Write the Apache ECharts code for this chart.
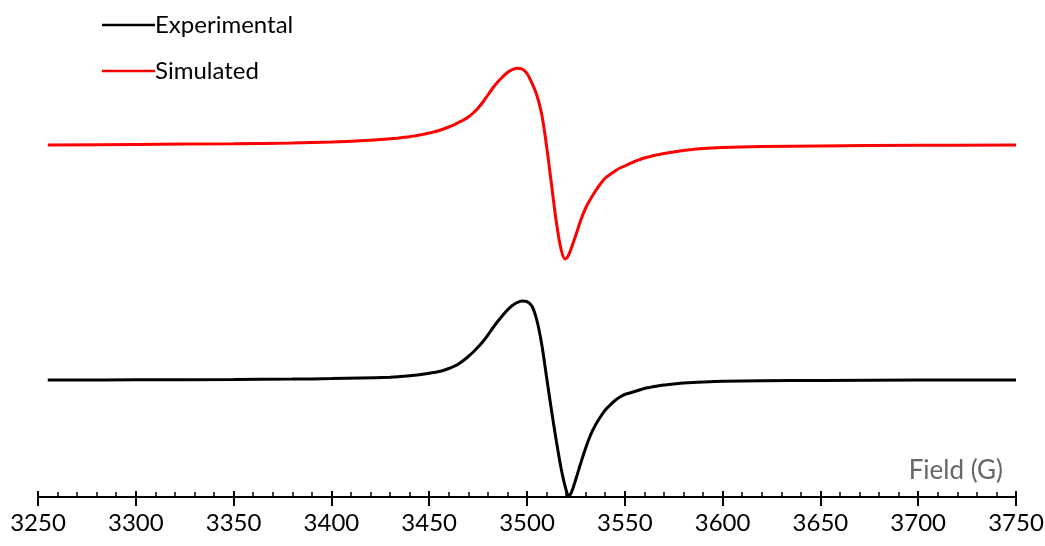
<!DOCTYPE html>
<html>
<head>
<meta charset="utf-8">
<script src="https://cdn.jsdelivr.net/npm/echarts@6/dist/echarts.min.js"></script>
<style>html,body{margin:0;padding:0;background:#fff}#c{width:1045px;height:546px}</style>
</head>
<body>
<div id="c"></div>
<script>
// Field (G) and intensity (arbitrary units)
const expField = [3255,3300,3350,3380,3400,3415,3430,3435,3440,3442.5,3445,3447.5,3450,3452.5,3455,3457.5,3460,3462.5,3465,3467.5,3470,3472.5,3475,3477.5,3480,3482.5,3485,3487.5,3490,3492.5,3495,3497.5,3500,3502.5,3505,3507.5,3510,3512.5,3515,3517.5,3520,3521.5,3523,3525,3527.5,3530,3532.5,3535,3537.5,3540,3542.5,3545,3547.5,3550,3552.5,3555,3557.5,3560,3562.5,3565,3567.5,3570,3572.5,3575,3577.5,3580,3590,3600,3620,3650,3700,3750];
const expIntensity = [0,0.2,0.5,0.9,1.4,2,2.8,3.4,4.2,4.7,5.3,6,6.7,7.5,8.5,9.8,11.5,13.5,16,19.5,23.5,28,33,38.5,45,52,58.5,64.5,70,74.5,77.5,79,78.3,74,60,36,3,-30,-61,-89,-110,-116,-111,-99,-83,-68,-55,-45,-37,-30,-25,-20.5,-17,-14.5,-13,-11.5,-10,-8.5,-7.5,-6.5,-5.7,-5,-4.5,-4,-3.5,-3,-2,-1.3,-0.8,-0.4,0,0];
const simField = [3255,3300,3350,3380,3400,3415,3430,3440,3442.5,3445,3447.5,3450,3452.5,3455,3457.5,3460,3462.5,3465,3467.5,3470,3472.5,3475,3477.5,3480,3482.5,3485,3487.5,3490,3492.5,3495,3497.5,3500,3502.5,3505,3507.5,3510,3512.5,3515,3517.5,3519.5,3521,3522.5,3525,3527.5,3530,3532.5,3535,3537.5,3540,3542.5,3545,3547.5,3550,3552.5,3555,3557.5,3560,3562.5,3565,3567.5,3570,3572.5,3575,3577.5,3580,3590,3600,3620,3650,3700,3750];
const simIntensity = [0,0.6,1.3,2,3,4.3,6.2,8.3,9.1,10,11,12,13.2,14.5,16.2,18,20,22.5,25,28,32,37,43,50,57,63,68,72.5,75.3,76.8,76,71.5,62,50,31,-1,-39,-77,-105,-114,-111,-104,-90,-75,-63,-54,-46,-39,-33,-29.5,-26,-23,-21,-18.7,-16.5,-14.7,-13,-11.7,-10.5,-9.5,-8.5,-7.7,-7,-6.2,-5.5,-3.5,-2.5,-1.6,-0.9,-0.3,0];
const simOffset = 235;
const seriesNames = ['Experimental','Simulated'];
const xTicks = {min:3250, max:3750, interval:50};

const expData = expField.map((f,i)=>[f, expIntensity[i]]);
const simData = simField.map((f,i)=>[f, simIntensity[i] + simOffset]);

const font = 'Lato, "Open Sans", sans-serif';
const chart = echarts.init(document.getElementById('c'));
chart.setOption({
  animation:false,
  backgroundColor:'#fff',
  legend:{
    orient:'vertical', left:97, top:8,
    icon:'rect', itemWidth:53, itemHeight:2.5, itemGap:22,
    textStyle:{fontFamily:font, fontSize:24, color:'#000', padding:[0,0,0,-5]},
    data:seriesNames
  },
  grid:{left:38, right:29, top:0, bottom:49, containLabel:false, outerBoundsMode:'none'},
  xAxis:[{
    type:'value', min:xTicks.min, max:xTicks.max, interval:xTicks.interval,
    axisLine:{show:true, onZero:false, lineStyle:{color:'#000', width:2}},
    axisTick:{show:true, inside:false, length:9, lineStyle:{color:'#000', width:2}},
    minorTick:{show:false},
    splitLine:{show:false},
    axisLabel:{fontFamily:font, fontSize:24, color:'#000', margin:14, formatter:(v)=>String(v)},
    name:'Field (G)', nameLocation:'end', nameGap:-13,
    nameTextStyle:{fontFamily:font, fontSize:26, color:'#666', align:'right', verticalAlign:'bottom', padding:[0,0,13,0]}
  },{
    type:'value', min:xTicks.min, max:xTicks.max, interval:xTicks.interval, position:'bottom',
    axisLine:{show:false, onZero:false},
    axisTick:{show:true, inside:true, length:6, lineStyle:{color:'#000', width:2}},
    minorTick:{show:true, splitNumber:5, length:5, lineStyle:{color:'#000', width:1.5}},
    splitLine:{show:false},
    axisLabel:{show:false}
  }],
  yAxis:{type:'value', min:-117, max:380, show:false, splitLine:{show:false}},
  series:[
    {name:seriesNames[0], type:'line', data:expData, xAxisIndex:0, symbol:'none', smooth:0.35,
     lineStyle:{color:'#000', width:3}, itemStyle:{color:'#000'}},
    {name:seriesNames[1], type:'line', data:simData, xAxisIndex:0, symbol:'none', smooth:0.35,
     lineStyle:{color:'#ff0000', width:3}, itemStyle:{color:'#ff0000'}}
  ]
});
</script>
</body>
</html>
